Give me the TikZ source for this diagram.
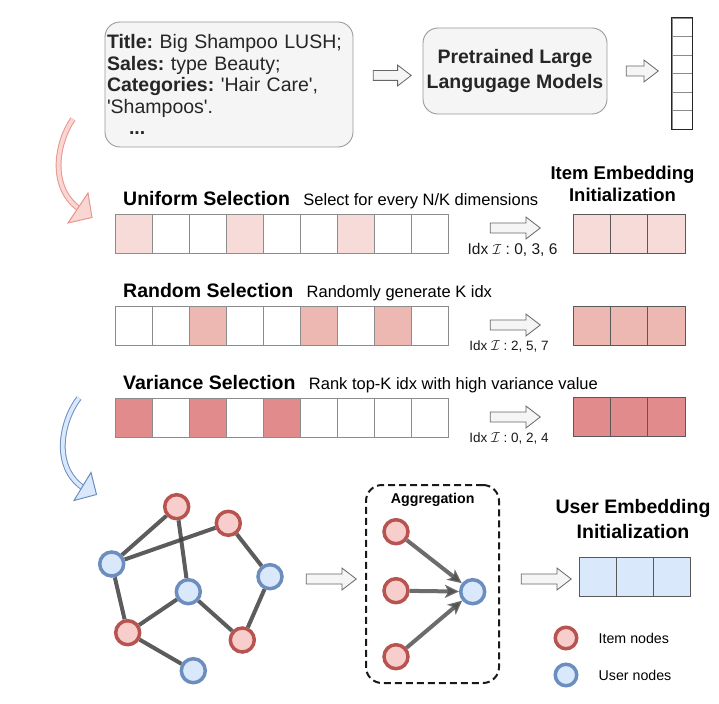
\documentclass[tikz,border=0pt]{standalone}
\usepackage{fontspec}
\setmainfont{Liberation Sans}
\usetikzlibrary{positioning, shapes.arrows, arrows.meta}

\definecolor{itemfill}{HTML}{F8CECC}
\definecolor{itemline}{HTML}{B85450}
\definecolor{userfill}{HTML}{DAE8FC}
\definecolor{userline}{HTML}{6C8EBF}
\definecolor{uniC}{RGB}{246,219,216}
\definecolor{ranC}{RGB}{236,184,177}
\definecolor{varC}{RGB}{226,139,140}
\definecolor{boxfill}{HTML}{F5F5F5}
\definecolor{boxline}{HTML}{9A9A9A}
\definecolor{pinkfill}{RGB}{249,214,210}
\definecolor{pinkline}{RGB}{232,150,142}

\newcommand{\fsBig}{\fontsize{19.5bp}{21.5bp}\selectfont}
\newcommand{\fsDesc}{\fontsize{16.5bp}{19bp}\selectfont}
\newcommand{\fsIdx}{\fontsize{13.5bp}{16bp}\selectfont}
\newcommand{\fsSmall}{\fontsize{14.2bp}{17bp}\selectfont}
\frenchspacing

\begin{document}
\begin{tikzpicture}[x=1bp, y=-1bp,
        roundbox/.style={rectangle, rounded corners=15bp, draw=boxline, fill=boxfill, line width=0.9bp, text=black!85},
        cell/.style={rectangle, draw=black!45, line width=0.9bp, minimum width=37bp, minimum height=39bp, inner sep=0pt},
        rescell/.style={cell, minimum width=37.3bp, draw=black!65},
        vcell/.style={rectangle, draw=black!45, line width=0.8bp, minimum width=20bp, minimum height=18.5bp, inner sep=0pt},
        blockarrow/.style={single arrow, draw=black!60, fill=boxfill, line width=0.8bp, inner xsep=0pt, inner ysep=4.6bp,
            single arrow head extend=6bp, single arrow tip angle=75, minimum height=50bp},
        rowtitle/.style={font=\fsBig\bfseries, inner sep=0pt, anchor=base west},
        rowdesc/.style={font=\fsDesc, inner sep=0pt},
        idx/.style={font=\fsIdx, inner sep=0pt, text=black!90},
        itemnode/.style={circle, draw=itemline, fill=itemfill, line width=3.5bp, minimum size=24bp, inner sep=0pt},
        usernode/.style={itemnode, draw=userline, fill=userfill},
        link/.style={line width=4bp, draw=black!75, draw opacity=0.85},
        aggarrow/.style={link, draw=black!68, -{Stealth[length=14bp, width=13bp, inset=3.5bp]}}
    ]
    \useasboundingbox (0,0) rectangle (719,704);

    % item text and language model
    \node (desc) [roundbox, minimum width=248bp, minimum height=125bp, text width=244bp, inner sep=2bp, align=left, font=\fsBig] at (229,84.5)
        {\textbf{Title:} Big Shampoo LUSH;\\ \textbf{Sales:} type Beauty;\\ \textbf{Categories:} \textquotesingle Hair Care\textquotesingle,\\ \textquotesingle Shampoos\textquotesingle.\\ \hspace*{22bp}\textbf{...}};
    \node (llm) [roundbox, minimum width=184bp, minimum height=86bp, align=center, font=\fontsize{19.5bp}{25bp}\selectfont\bfseries] at (515,71)
        {Pretrained Large\\Langugage Models};
    \node (arrA) [blockarrow, minimum height=38bp, inner ysep=4.5bp, single arrow head extend=5.5bp] at (389,75.5) {};
    \node (arrB) [blockarrow, minimum height=32bp] at (639,71) {};

    % output vector
    \foreach \i in {1,...,6}
        \node[vcell] (vec\i) at (682, 8.75+18.5*\i) {};
    \draw[black!85, line width=1bp] (vec1.north west) rectangle (vec6.south east);

    % pink curved arrow
    \coordinate (pinkS) at (73,119);
    \coordinate (pinkE) at (78,208);
    \draw[pinkline, line width=1bp, double=pinkfill, double distance=3.8bp] (pinkS) .. controls (58,140) and (48,185) .. (pinkE);
    \filldraw[fill=pinkfill, draw=pinkline, line width=1bp] (88,193) -- (92,217.5) -- (68,223) -- cycle;

    % uniform selection
    \node (uniT) [rowtitle] at (123,205) {Uniform Selection};
    \node (uniD) [rowdesc, right=13bp of uniT.base east, anchor=base west] {Select for every N/K dimensions};
    \foreach \c [count=\i from 0] in {uniC,white,white,uniC,white,white,uniC,white,white}
        \node[cell, fill=\c] (uni\i) at (133.5+37*\i, 233.5) {};
    \node (uniA) [blockarrow] at (512,228) {};
    \node (uniI) [idx, font=\fontsize{15.5bp}{18bp}\selectfont] at (512.5,250) {Idx $\mathcal{I}$ : 0, 3, 6};
    \foreach \i in {0,1,2}
        \node[rescell, fill=uniC] (uniE\i) at (591.7+37.3*\i, 233.5) {};
    \node (itemT) [font=\fontsize{18.5bp}{22bp}\selectfont\bfseries, align=center] at (622.5,184) {Item Embedding\\Initialization};

    % random selection
    \node (ranT) [rowtitle] at (123,297) {Random Selection};
    \node (ranD) [rowdesc, right=13bp of ranT.base east, anchor=base west] {Randomly generate K idx};
    \foreach \c [count=\i from 0] in {white,white,ranC,white,white,ranC,white,ranC,white}
        \node[cell, fill=\c] (ran\i) at (133.5+37*\i, 326) {};
    \node (ranA) [blockarrow] at (512,325) {};
    \node (ranI) [idx] at (509,346) {Idx $\mathcal{I}$ : 2, 5, 7};
    \foreach \i in {0,1,2}
        \node[rescell, fill=ranC] (ranE\i) at (591.7+37.3*\i, 325.5) {};

    % variance selection
    \node (varT) [rowtitle] at (123,389) {Variance Selection};
    \node (varD) [rowdesc, right=13bp of varT.base east, anchor=base west] {Rank top-K idx with high variance value};
    \foreach \c [count=\i from 0] in {varC,white,varC,white,varC,white,white,white,white}
        \node[cell, fill=\c] (var\i) at (133.5+37*\i, 417.5) {};
    \node (varA) [blockarrow] at (512,417) {};
    \node (varI) [idx] at (509,438) {Idx $\mathcal{I}$ : 0, 2, 4};
    \foreach \i in {0,1,2}
        \node[rescell, fill=varC] (varE\i) at (591.7+37.3*\i, 417) {};

    % blue curved arrow
    \coordinate (blueS) at (79,398);
    \coordinate (blueE) at (82,487);
    \draw[userline, line width=1bp, double=userfill, double distance=3.8bp] (blueS) .. controls (62,420) and (52,465) .. (blueE);
    \filldraw[fill=userfill, draw=userline, line width=1bp] (91,472.5) -- (96.5,494.5) -- (74,500.5) -- cycle;

    % user-item graph
    \node[itemnode] (r1) at (176.7,506.7) {};
    \node[itemnode] (r2) at (228.3,523.3) {};
    \node[usernode] (b1) at (111.7,564) {};
    \node[usernode] (b2) at (270,576.7) {};
    \node[usernode] (b3) at (188.3,591.7) {};
    \node[itemnode] (r3) at (127.7,632.7) {};
    \node[itemnode] (r4) at (242.3,640) {};
    \node[usernode] (b4) at (193.3,670.7) {};
    \foreach \a/\b in {b1/r1, b1/r2, r1/b3, r2/b2, b2/r4, b3/r4, b3/r3, b1/r3, r3/b4}
        \draw[link] (\a) -- (\b);

    \node (arrC) [blockarrow] at (328,579) {};

    % aggregation
    \node (agg) [rectangle, draw=black!90, line width=2bp, dash pattern=on 7bp off 4bp, rounded corners=16bp,
        minimum width=133bp, minimum height=198bp] at (432.5,584) {};
    \node (aggT) [font=\fsSmall\bfseries, inner sep=0pt] at (432.7,500) {Aggregation};
    \node[itemnode] (ag1) at (396,531.7) {};
    \node[itemnode] (ag2) at (396,590.7) {};
    \node[itemnode] (ag3) at (396,656.7) {};
    \node[usernode] (agU) at (472.7,591.7) {};
    \foreach \a in {ag1, ag2, ag3}
        \draw[aggarrow] (\a) -- (agU);

    \node (arrD) [blockarrow] at (543,579) {};

    % user embedding
    \node (userT) [font=\fontsize{19.5bp}{25bp}\selectfont\bfseries, align=center] at (633,519) {User Embedding\\Initialization};
    \foreach \i in {0,1,2}
        \node[rescell, fill=userfill] (userE\i) at (597.6+37.3*\i, 576.5) {};

    % legend
    \node[itemnode, minimum size=21.5bp] (legI) at (566,638) {};
    \node[usernode, minimum size=21.5bp] (legU) at (566,675) {};
    \node (legIT) [font=\fsSmall, inner sep=0pt, right=20bp of legI] {Item nodes};
    \node (legUT) [font=\fsSmall, inner sep=0pt, right=20bp of legU] {User nodes};
\end{tikzpicture}
\end{document}
